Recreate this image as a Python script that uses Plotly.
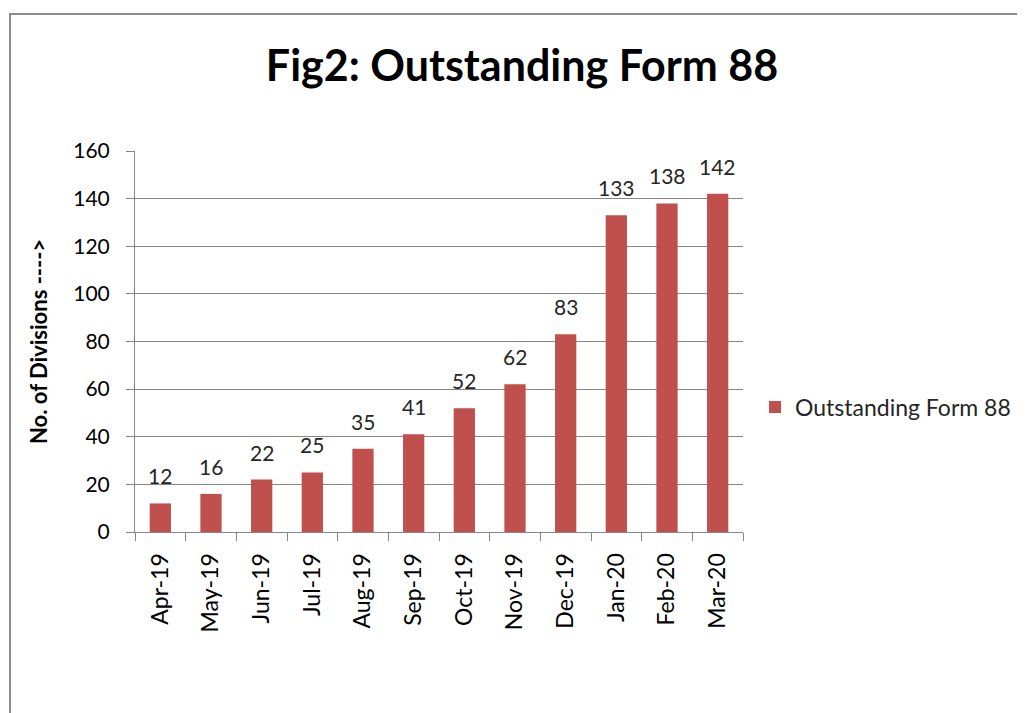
import plotly.graph_objects as go

months = ["Apr-19", "May-19", "Jun-19", "Jul-19", "Aug-19", "Sep-19",
          "Oct-19", "Nov-19", "Dec-19", "Jan-20", "Feb-20", "Mar-20"]
outstanding = [12, 16, 22, 25, 35, 41, 52, 62, 83, 133, 138, 142]
y_ticks = [0, 20, 40, 60, 80, 100, 120, 140, 160]

FONT = "Lato"
OFF = 8  # page body margin offset
W, H = 1025 - OFF, 713 - OFF
L, T = 135 - OFF, 151 - OFF
R = W - (743 - OFF)
B = H - (532 - OFF)
pw, ph = W - L - R, H - T - B

def px(x):
    return (x - OFF - L) / pw

def py(y):
    return (H - B - (y - OFF)) / ph

fig = go.Figure()
fig.add_trace(go.Bar(
    x=months, y=outstanding, name="Outstanding Form 88",
    marker=dict(color="#C0504D", line=dict(width=0)),
))

label_annotations = [
    dict(x=m, y=v, xref="x", yref="y", text=str(v), showarrow=False,
         yanchor="bottom", yshift=13,
         font=dict(family=FONT, size=21, color="#262626"))
    for m, v in zip(months, outstanding)
]

fig.update_layout(
    width=W, height=H,
    margin=dict(l=L, r=R, t=T, b=B, autoexpand=False),
    paper_bgcolor="white", plot_bgcolor="white",
    bargap=0.58,
    font=dict(family=FONT, size=18, color="#262626"),
    title=dict(text="<b>Fig2: Outstanding Form 88</b>", x=(522 - OFF) / W, xanchor="center",
               y=1 - (66 - OFF) / H, yanchor="middle",
               font=dict(family=FONT, size=43, color="black")),
    showlegend=True,
    legend=dict(x=px(755), xanchor="left", y=py(407), yanchor="middle",
                font=dict(family=FONT, size=23, color="#262626"),
                itemwidth=30, bgcolor="rgba(0,0,0,0)"),
    xaxis=dict(
        type="category", showline=True, linecolor="#868686", linewidth=1,
        ticks="outside", tickson="boundaries", ticklen=8, tickcolor="#868686",
        tickangle=-90, tickfont=dict(family=FONT, size=23, color="black"),
        ticklabelstandoff=11, showgrid=False,
    ),
    yaxis=dict(
        range=[0, 160], tickvals=y_ticks, showline=True, linecolor="#868686",
        linewidth=1, ticks="outside", ticklen=8, tickcolor="#868686",
        showgrid=True, gridcolor="#868686", gridwidth=1,
        tickfont=dict(family=FONT, size=21, color="black"), zeroline=False,
        ticklabelstandoff=12,
    ),
    shapes=[dict(type="rect", xref="paper", yref="paper",
                 x0=px(10), x1=px(1021), y0=py(14), y1=py(730),
                 line=dict(color="#8C8C8C", width=2), fillcolor="rgba(0,0,0,0)",
                 layer="below")],
    annotations=label_annotations + [
        dict(text="<b>No. of Divisions ----></b>", xref="paper", yref="paper",
             x=px(38), y=py(342), textangle=-90, showarrow=False,
             xanchor="center", yanchor="middle",
             font=dict(family=FONT, size=22, color="black"))],
)

fig.write_html("out.html")
